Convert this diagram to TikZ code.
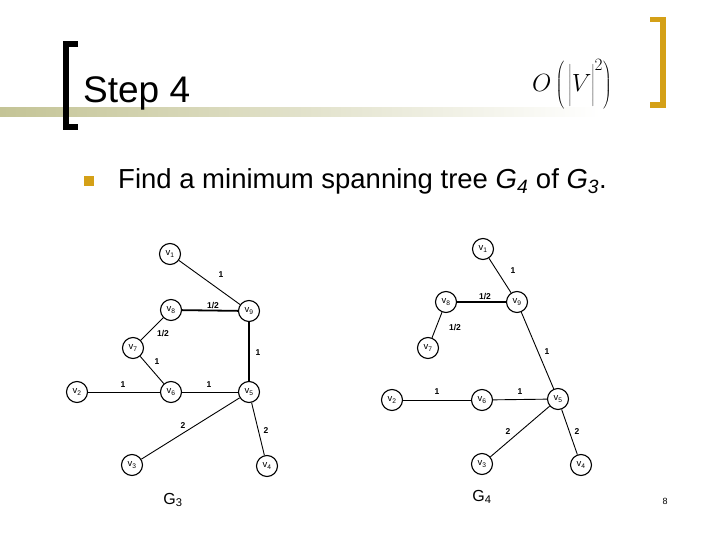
\documentclass[tikz,border=0pt]{standalone}
\usepackage{fontspec}
\setmainfont{Liberation Sans}
\usetikzlibrary{positioning}
\definecolor{gold}{RGB}{212,160,23}
\definecolor{olivebar}{RGB}{196,196,150}

\begin{document}
\begin{tikzpicture}[x=1pt,y=-1pt,
    vtx/.style={circle,draw,line width=1.1pt,inner sep=0pt,minimum size=21pt,font=\fontsize{9.5}{9.5}\selectfont},
    wt/.style={font=\fontsize{8.5}{9}\selectfont\bfseries,inner sep=1pt},
    edge/.style={line width=0.9pt},
    heavy/.style={line width=1.8pt},
    glabel/.style={font=\fontsize{16}{17}\selectfont}]
        \useasboundingbox[fill=white] (0,0) rectangle (720,540);
        % Judul
        \shade[left color=olivebar,right color=white] (0,108) rectangle (600,117);
        \draw[line width=6pt,line join=miter] (78,44) -- (66,44) -- (66,127.5) -- (78,127.5);
        \draw[gold,line width=5.5pt,line join=miter] (650,19.5) -- (663,19.5) -- (663,105) -- (650,105);
        \node[anchor=base west,inner sep=0pt,font=\fontsize{37}{40}\selectfont] (title) at (83,103) {Step 4};
        \node[font=\fontsize{23}{26}\selectfont] (cplx) at (572,84.5)
            {$O\left(\rule[-16pt]{0pt}{47pt}\left|\rule[-8pt]{0pt}{35pt}V\right|^{2}\right)$};
        % Poin
        \node[fill=gold,inner sep=0pt,minimum size=10pt] (bullet) at (89,181) {};
        \node[anchor=base west,inner sep=0pt,font=\fontsize{27.5}{30}\selectfont] (task) at (118,189)
            {Find a minimum spanning tree \textit{G}\textsubscript{\textit{4}} of \textit{G}\textsubscript{\textit{3}}.};
        % Graf G3
        \node[vtx] (a1) at (170,254) {v\textsubscript{1}};
        \node[vtx] (a8) at (171,310) {v\textsubscript{8}};
        \node[vtx] (a9) at (249,311) {v\textsubscript{9}};
        \node[vtx] (a7) at (133,348) {v\textsubscript{7}};
        \node[vtx] (a2) at (77,392) {v\textsubscript{2}};
        \node[vtx] (a6) at (171,392) {v\textsubscript{6}};
        \node[vtx] (a5) at (249,392) {v\textsubscript{5}};
        \node[vtx] (a3) at (132,465) {v\textsubscript{3}};
        \node[vtx] (a4) at (267,466) {v\textsubscript{4}};
        \draw[edge] (a1) -- (a9);
        \draw[heavy] (a8) -- (a9);
        \draw[edge] (a8) -- (a7);
        \draw[edge] (a7) -- (a6);
        \draw[heavy] (a9) -- (a5);
        \draw[edge] (a2) -- (a6);
        \draw[edge] (a6) -- (a5);
        \draw[edge] (a5) -- (a3);
        \draw[edge] (a5) -- (a4);
        \node[wt] (wa19) at (221,275) {1};
        \node[wt] (wa89) at (213,306) {1/2};
        \node[wt] (wa87) at (163,334) {1/2};
        \node[wt] (wa95) at (258,353) {1};
        \node[wt] (wa76) at (157,362) {1};
        \node[wt] (wa26) at (123,385) {1};
        \node[wt] (wa65) at (209,385) {1};
        \node[wt] (wa53) at (183,426) {2};
        \node[wt] (wa54) at (266,431) {2};
        \node[glabel] (g3) at (173,500) {G\textsubscript{3}};
        % Graf G4
        \node[vtx] (b1) at (483,249) {v\textsubscript{1}};
        \node[vtx] (b8) at (446,302) {v\textsubscript{8}};
        \node[vtx] (b9) at (517,302) {v\textsubscript{9}};
        \node[vtx] (b7) at (428,348) {v\textsubscript{7}};
        \node[vtx] (b2) at (392,400) {v\textsubscript{2}};
        \node[vtx] (b6) at (482,400) {v\textsubscript{6}};
        \node[vtx] (b5) at (558,399) {v\textsubscript{5}};
        \node[vtx] (b3) at (482,464) {v\textsubscript{3}};
        \node[vtx] (b4) at (581,465) {v\textsubscript{4}};
        \draw[edge] (b1) -- (b9);
        \draw[line width=1.4pt] (b8) -- (b9);
        \draw[edge] (b8) -- (b7);
        \draw[edge] (b9) -- (b5);
        \draw[edge] (b2) -- (b6);
        \draw[edge] (b6) -- (b5);
        \draw[edge] (b5) -- (b3);
        \draw[edge] (b5) -- (b4);
        \node[wt] (wb19) at (513,271) {1};
        \node[wt] (wb89) at (485,297) {1/2};
        \node[wt] (wb87) at (455,328) {1/2};
        \node[wt] (wb95) at (547,352) {1};
        \node[wt] (wb26) at (437,392) {1};
        \node[wt] (wb65) at (520,392) {1};
        \node[wt] (wb53) at (508,432) {2};
        \node[wt] (wb54) at (577,432) {2};
        \node[glabel] (g4) at (482,497) {G\textsubscript{4}};
        % Nomor halaman
        \node[font=\fontsize{9}{10}\selectfont] (page) at (665,501) {8};
      \end{tikzpicture}
\end{document}
